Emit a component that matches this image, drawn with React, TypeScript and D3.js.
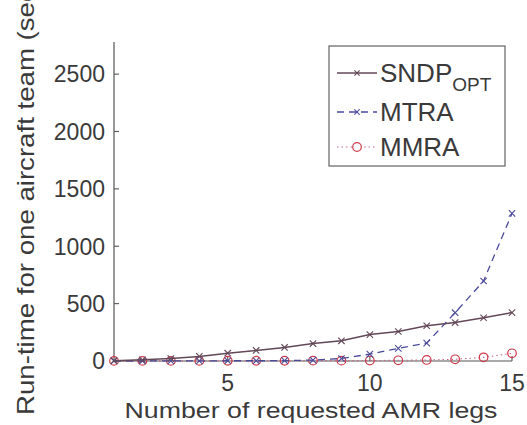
import React from "react";
import * as d3 from "d3";

// Number of requested AMR legs
const legs = [1, 2, 3, 4, 5, 6, 7, 8, 9, 10, 11, 12, 13, 14, 15];
// Run-time per aircraft team (seconds)
const sndpOpt = [3, 10, 22, 40, 68, 92, 118, 152, 176, 230, 257, 307, 335, 377, 422];
const mtra = [0, 0, 1, 1, 2, 2, 3, 8, 22, 60, 110, 156, 421, 697, 1286];
const mmra = [1, 1, 1, 1, 2, 2, 2, 3, 3, 4, 6, 9, 15, 32, 67];

const yTicks = [0, 500, 1000, 1500, 2000, 2500];
const xTicks = [5, 10, 15];

const W = 527;
const H = 425;
const FONT = "Arial, 'Liberation Sans', Helvetica, sans-serif";
const TEXT = "#3a3a3a";
const AXIS = "#555";

const C_SNDP = "#634858";
const C_MTRA = "#4a4a9a";
const C_MMRA = "#d03a4a";

function Cross({ x, y, color, s = 3.2 }: { x: number; y: number; color: string; s?: number }) {
  return (
    <g stroke={color} strokeWidth={1.1}>
      <line x1={x - s} y1={y - s} x2={x + s} y2={y + s} />
      <line x1={x - s} y1={y + s} x2={x + s} y2={y - s} />
    </g>
  );
}

export default function App() {
  const x = d3.scaleLinear().domain([1, 15]).range([114, 512]);
  const y = d3.scaleLinear().domain([0, 2780]).range([361, 42]);

  const line = (vals: number[]) =>
    d3
      .line<number>()
      .x((_, i) => x(legs[i]))
      .y((v) => y(v))(vals) as string;

  return (
    <svg
      width={W}
      height={H}
      style={{ position: "absolute", left: 0, top: 0, background: "#fff" }}
      fontFamily={FONT}
    >
      {/* axes */}
      <line x1={x(1)} y1={y.range()[1]} x2={x(1)} y2={y(0)} stroke={AXIS} strokeWidth={1.2} />
      <line x1={x(1)} y1={y(0)} x2={x(15)} y2={y(0)} stroke={AXIS} strokeWidth={1.2} />

      {yTicks.map((t) => (
        <g key={"y" + t}>
          <line x1={x(1)} x2={x(1) + 5} y1={y(t)} y2={y(t)} stroke={AXIS} strokeWidth={1.1} />
          <text x={105} y={y(t)} dy="0.36em" textAnchor="end" fontSize={23} fill={TEXT}>
            {t}
          </text>
        </g>
      ))}
      {xTicks.map((t) => (
        <g key={"x" + t}>
          <line x1={x(t)} x2={x(t)} y1={y(0)} y2={y(0) - 5} stroke={AXIS} strokeWidth={1.1} />
          <text x={x(t)} y={391} textAnchor="middle" fontSize={23} fill={TEXT}>
            {t}
          </text>
        </g>
      ))}

      <text
        x={311}
        y={418}
        textAnchor="middle"
        fontSize={22}
        textLength={373}
        lengthAdjust="spacingAndGlyphs"
        fill={TEXT}
      >
        Number of requested AMR legs
      </text>
      <text
        transform={`translate(34, 197) rotate(-90)`}
        textAnchor="middle"
        fontSize={24}
        textLength={436}
        lengthAdjust="spacingAndGlyphs"
        fill={TEXT}
      >
        Run-time for one aircraft team (sec)
      </text>

      {/* series */}
      <path d={line(mmra)} fill="none" stroke="#c86a8a" strokeWidth={1.1} strokeDasharray="1.5 3" />
      {mmra.map((v, i) => (
        <circle key={"c" + i} cx={x(legs[i])} cy={y(v)} r={4.3} fill="none" stroke={C_MMRA} strokeWidth={1.2} />
      ))}
      <path d={line(mtra)} fill="none" stroke={C_MTRA} strokeWidth={1.3} strokeDasharray="7 5" />
      {mtra.map((v, i) => (
        <Cross key={"m" + i} x={x(legs[i])} y={y(v)} color={C_MTRA} />
      ))}
      <path d={line(sndpOpt)} fill="none" stroke={C_SNDP} strokeWidth={1.5} />
      {sndpOpt.map((v, i) => (
        <Cross key={"s" + i} x={x(legs[i])} y={y(v)} color={C_SNDP} />
      ))}

      {/* legend */}
      <g>
        <rect x={329} y={46} width={176} height={120} fill="#fff" stroke="#555" strokeWidth={1.1} />
        <line x1={337} x2={377} y1={73} y2={73} stroke={C_SNDP} strokeWidth={1.5} />
        <Cross x={357} y={73} color={C_SNDP} s={2.6} />
        <text x={380} y={82} fontSize={26} fill={TEXT}>
          SNDP
          <tspan dy={9} fontSize={19}>OPT</tspan>
        </text>

        <line x1={337} x2={377} y1={112} y2={112} stroke={C_MTRA} strokeWidth={1.3} strokeDasharray="7 5" />
        <Cross x={357} y={112} color={C_MTRA} s={2.6} />
        <text x={380} y={121} fontSize={26} fill={TEXT}>
          MTRA
        </text>

        <line x1={337} x2={377} y1={147} y2={147} stroke="#c86a8a" strokeWidth={1.1} strokeDasharray="1.5 3" />
        <circle cx={357} cy={147} r={4.3} fill="#fff" stroke={C_MMRA} strokeWidth={1.2} />
        <text x={380} y={156} fontSize={26} fill={TEXT}>
          MMRA
        </text>
      </g>
    </svg>
  );
}
